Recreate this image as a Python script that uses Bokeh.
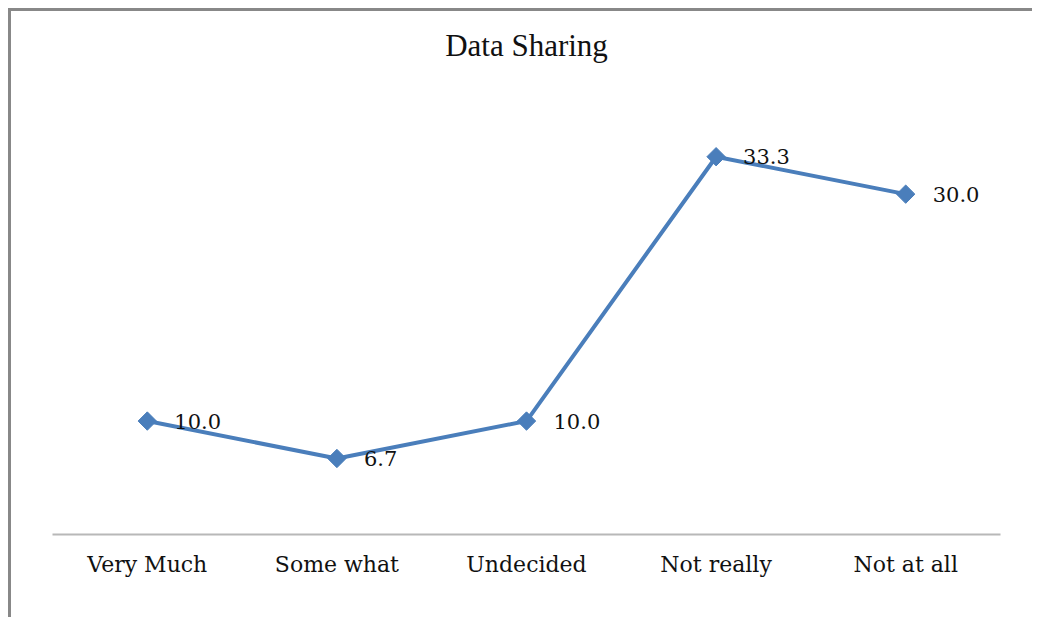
import math
from bokeh.plotting import figure
from bokeh.models import ColumnDataSource, FactorRange, Range1d, LabelSet, Label
from bokeh.embed import file_html
from bokeh.resources import INLINE
from bokeh.core.properties import value

categories = ["Very Much", "Some what", "Undecided", "Not really", "Not at all"]
values = [10.0, 6.7, 10.0, 33.3, 30.0]
labels = ["10.0", "6.7", "10.0", "33.3", "30.0"]
title_text = "Data Sharing"

src = ColumnDataSource(dict(x=categories, y=values, lab=labels))

p = figure(width=1024, height=609, x_range=FactorRange(*categories),
           y_range=Range1d(0, 46.1), output_backend="svg", toolbar_location=None,
           min_border_left=41, min_border_right=35, min_border_top=0,
           min_border_bottom=86)
p.styles = {"margin-left": "8px", "margin-top": "8px",
            "border-left": "3px solid #888888", "border-top": "3px solid #888888"}
p.outline_line_color = None
p.grid.visible = False
p.yaxis.visible = False
p.xaxis.axis_line_color = "#b8b8b8"
p.xaxis.axis_line_width = 2
p.xaxis.major_tick_line_color = None
p.xaxis.minor_tick_line_color = None
p.xaxis.major_label_text_font = "DejaVu Serif"
p.xaxis.major_label_text_font_size = "22px"
p.xaxis.major_label_text_color = "#111111"
p.xaxis.major_label_standoff = 11
p.x_range.range_padding = 0

p.line("x", "y", source=src, line_color="#4a7ebb", line_width=4)
p.scatter("x", "y", source=src, marker="square", size=13, angle=math.pi / 4,
          fill_color="#4a7ebb", line_color="#4a7ebb")

p.add_layout(LabelSet(x="x", y="y", text="lab", source=src, x_offset=27, y_offset=0,
                      text_baseline="middle", text_font=value("DejaVu Serif"),
                      text_font_size="21px", text_color="#111111"))

p.add_layout(Label(x=2.5, y=43.1, text=title_text, text_align="center",
                   text_baseline="middle", text_font="Liberation Serif",
                   text_font_size="31px", text_color="#111111"))

open("out.html", "w").write(file_html(p, INLINE))
